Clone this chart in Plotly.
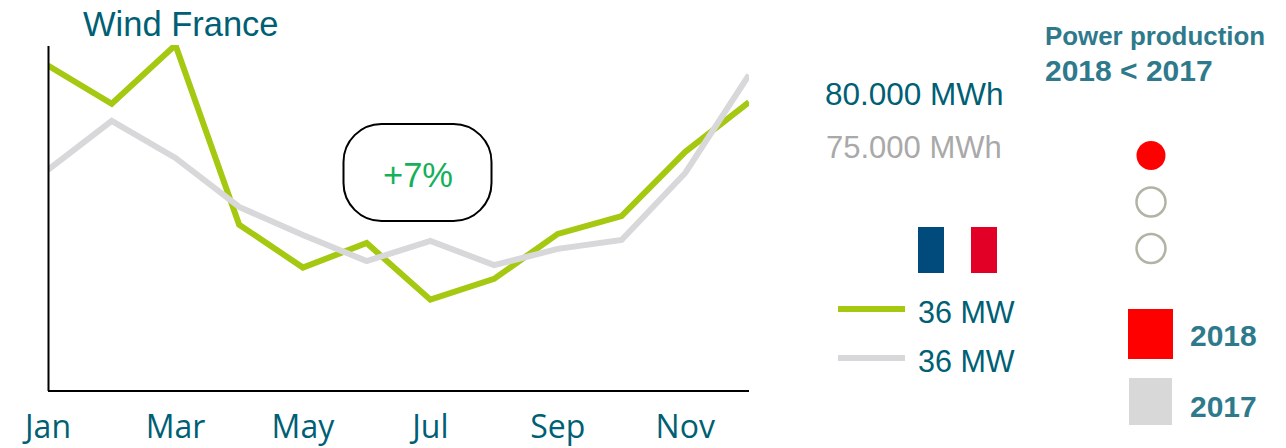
import plotly.graph_objects as go

months = ["Jan","Feb","Mar","Apr","May","Jun","Jul","Aug","Sep","Oct","Nov","Dec"]
wind_2018 = [10600, 9350, 11270, 5400, 4000, 4800, 2950, 3630, 5100, 5680, 7780, 9400]
wind_2017 = [7190, 8790, 7580, 5980, 5060, 4210, 4870, 4080, 4610, 4900, 7090, 10290]
tick_labels = ["Jan","Mar","May","Jul","Sep","Nov"]

GREEN = "#a5c811"; GREY = "#d8d8da"; TEAL = "#005f75"; TEAL2 = "#2e7a8c"
L, R, T, B = 48, 749, 45, 390
def px(x): return (x - L) / (R - L)
def py(y): return (B - y) / (B - T)

fig = go.Figure()
fig.add_trace(go.Scatter(x=months, y=wind_2018, mode="lines", name="2018",
                         line=dict(color=GREEN, width=6, shape="linear")))
fig.add_trace(go.Scatter(x=months, y=wind_2017, mode="lines", name="2017",
                         line=dict(color=GREY, width=6, shape="linear")))

def rect(x0, y0, x1, y1, color):
    return dict(type="rect", xref="paper", yref="paper", x0=px(x0), x1=px(x1), y0=py(y0), y1=py(y1),
                fillcolor=color, line=dict(width=0), layer="above")
def circ(cx, cy, r, fill, line, w):
    return dict(type="circle", xref="paper", yref="paper", x0=px(cx-r), x1=px(cx+r), y0=py(cy-r), y1=py(cy+r),
                fillcolor=fill, line=dict(color=line, width=w))
def hline(x0, x1, y, color):
    return dict(type="line", xref="paper", yref="paper", x0=px(x0), x1=px(x1), y0=py(y), y1=py(y),
                line=dict(color=color, width=6))
def rrect(x0, y0, x1, y1, r):
    X0, X1, Y0, Y1 = px(x0), px(x1), py(y0), py(y1)
    rx, ry = r / (R - L), r / (B - T)
    k = 0.45
    cx, cy = rx * k, ry * k
    p = (f"M {X0+rx} {Y0} L {X1-rx} {Y0} C {X1-cx} {Y0} {X1} {Y0-cy} {X1} {Y0-ry} "
         f"L {X1} {Y1+ry} C {X1} {Y1+cy} {X1-cx} {Y1} {X1-rx} {Y1} "
         f"L {X0+rx} {Y1} C {X0+cx} {Y1} {X0} {Y1+cy} {X0} {Y1+ry} "
         f"L {X0} {Y0-ry} C {X0} {Y0-cy} {X0+cx} {Y0} {X0+rx} {Y0} Z")
    return dict(type="path", xref="paper", yref="paper", path=p, line=dict(color="black", width=2), fillcolor="rgba(0,0,0,0)")

shapes = [
    dict(type="line", xref="paper", yref="paper", x0=px(48.5), x1=px(48.5), y0=py(46), y1=py(391),
         line=dict(color="black", width=2)),
    rrect(343.5, 124, 491.5, 221, 38),
    rect(918, 227, 944, 273, "#004a7c"),
    rect(971, 227, 997, 273, "#e30026"),
    hline(838, 905, 309, GREEN),
    hline(838, 905, 358, GREY),
    circ(1151, 155.5, 14.5, "#ff0000", "#ff0000", 0),
    circ(1151, 202, 14.5, "white", "#b3b3a5", 2.5),
    circ(1151, 248.5, 14.5, "white", "#b3b3a5", 2.5),
    rect(1128, 309, 1173, 359, "#ff0000"),
    rect(1129, 378, 1172, 425, "#d8d8d8"),
]

F = "Liberation Sans"
def label(x, y, text, size, color, anchor="left", family=F):
    return dict(xref="paper", yref="paper", x=px(x), y=py(y), text=text, showarrow=False,
                xanchor=anchor, yanchor="middle", font=dict(family=family, size=size, color=color),
                borderpad=0, borderwidth=0)

annotations = [
    label(83, 24, "Wind France", 34.5, TEAL),
    label(418, 175, "+7%", 34.5, "#14b05a", "center"),
    label(825, 94, "80.000 MWh", 31.5, TEAL),
    label(826, 147, "75.000 MWh", 31, "#a9a9a9"),
    label(918, 312, "36 MW", 30.5, TEAL),
    label(918, 361, "36 MW", 30.5, TEAL),
    label(1045, 36, "<b>Power production</b>", 25.9, TEAL2),
    label(1045, 70, "<b>2018 &lt; 2017</b>", 30, TEAL2),
    label(1190, 335, "<b>2018</b>", 30, TEAL2),
    label(1190, 406, "<b>2017</b>", 30, TEAL2),
]

fig.update_layout(
    width=1286, height=448, autosize=False,
    margin=dict(l=L, r=1286-R, t=T, b=448-B),
    paper_bgcolor="white", plot_bgcolor="white", showlegend=False,
    shapes=shapes, annotations=annotations,
    xaxis=dict(type="category", categoryorder="array", categoryarray=months,
               range=[0, 11], tickmode="array", tickvals=tick_labels, ticktext=tick_labels,
               showgrid=False, zeroline=False, showline=True, linecolor="black", linewidth=2,
               ticks="", tickfont=dict(family="Open Sans", size=32, color=TEAL), ticklabelstandoff=8,
               ticklabeloverflow="allow", automargin=False),
    yaxis=dict(range=[0, 11270], showticklabels=False, showgrid=False, zeroline=False,
               showline=False, ticks="", automargin=False),
)
fig.write_html("out.html", config=dict(displayModeBar=False),
               post_script="document.body.style.margin='0';document.body.style.overflow='hidden';")
